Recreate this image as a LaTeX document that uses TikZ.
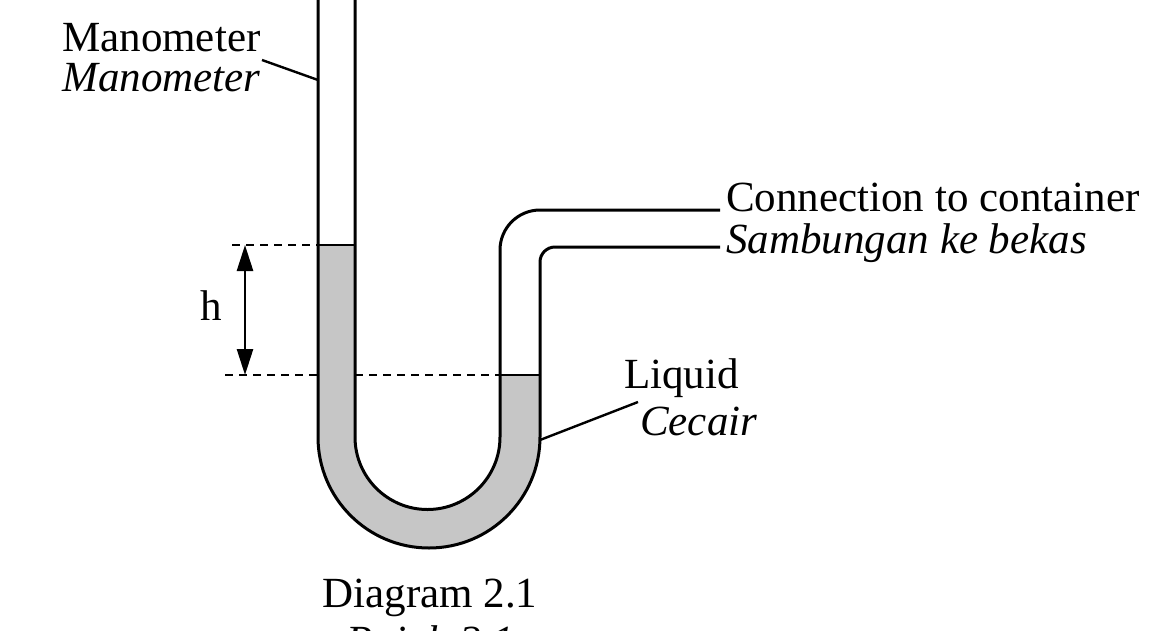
\documentclass[tikz,border=0pt]{standalone}
\usepackage{fontspec}
\setmainfont{Liberation Serif}
\usetikzlibrary{arrows.meta}
\begin{document}
\begin{tikzpicture}[x=1pt,y=-1pt,
  wall/.style={line width=3pt},
  lbl/.style={font=\fontsize{43}{46}\selectfont, inner sep=0pt},
  lead/.style={line width=2.4pt},
  dashline/.style={line width=1.6pt, dash pattern=on 8pt off 6pt}]
\useasboundingbox (0,0) rectangle (1160,630);
% liquid
\fill[gray!45] (318,245) -- (318,437) arc(180:0:111) -- (540,375) -- (500,375) -- (500,437) arc(0:180:72) -- (355,245) -- cycle;
% tube walls
\draw[wall] (318,0) -- (318,437) arc(180:0:111) -- (540,262) arc(180:270:15) -- (720,247);
\draw[wall] (355,0) -- (355,437) arc(180:0:72.5) -- (500,250) arc(180:270:40) -- (720,210);
\draw[line width=1.6pt] (318,245) -- (355,245);
\draw[line width=1.6pt] (500,375) -- (540,375);
% dashed
\coordinate (d1a) at (232,245); \coordinate (d1b) at (318,245);
\coordinate (d2a) at (225,375); \coordinate (d2b) at (318,375);
\coordinate (d3a) at (355,375); \coordinate (d3b) at (500,375);
\draw[dashline] (d1a) -- (d1b);
\draw[dashline] (d2a) -- (d2b);
\draw[dashline] (d3a) -- (d3b);
\coordinate (ha) at (245,245); \coordinate (hb) at (245,375);
\draw[line width=2.6pt,{Triangle[width=16pt,length=26pt]}-{Triangle[width=16pt,length=26pt]}] (ha) -- (hb);
\node[lbl] (h) at (211,306) {h};
% labels
\node[lbl, anchor=west] (man) at (62,38) {Manometer};
\node[lbl, anchor=west] (mani) at (62,78) {\itshape Manometer};
\coordinate (m1) at (262,60); \coordinate (m2) at (318,80);
\draw[lead] (m1) -- (m2);
\node[lbl, anchor=west] (con) at (726,197) {Connection to container};
\node[lbl, anchor=west] (sam) at (726,243) {\itshape Sambungan ke bekas};
\node[lbl, anchor=west] (liq) at (624,378) {Liquid};
\node[lbl, anchor=west] (cec) at (640,421) {\itshape Cecair};
\coordinate (l1) at (638,402); \coordinate (l2) at (540,440);
\draw[lead] (l1) -- (l2);
\node[lbl] (dia) at (430,598) {Diagram 2.1};
\node[lbl] (raj) at (430,645) {\itshape Rajah 2.1};
\end{tikzpicture}
\end{document}
